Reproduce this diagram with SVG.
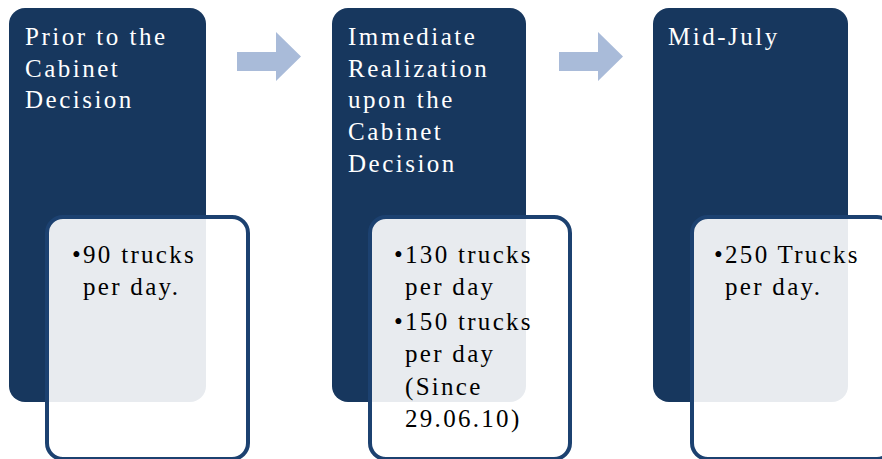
<svg xmlns="http://www.w3.org/2000/svg" width="882" height="459" viewBox="0 0 882 459">
<style>
.dark{fill:#17375e;}
.card{fill:#ffffff;fill-opacity:0.9;stroke:#1c4170;stroke-width:4;}
.arrow{fill:#a9bbd9;}
.head{font-family:"Liberation Serif",serif;font-size:25px;fill:#ffffff;letter-spacing:2.5px;}
.body{font-family:"Liberation Serif",serif;font-size:25px;fill:#000000;letter-spacing:2.3px;}
</style>
<rect width="882" height="459" fill="#ffffff"/>
<g id="connectors">
<path class="arrow" d="M237,52 H276 V32 L301,56.5 L276,81 V71 H237 Z"/>
<path class="arrow" d="M559,52 H598 V32 L623,56.5 L598,81 V71 H559 Z"/>
</g>
<g id="stage1">
<rect class="dark" x="9" y="8" width="197" height="394" rx="16"/>
<rect class="card" x="47" y="217" width="201" height="242" rx="16"/>
<text class="head"><tspan x="25" y="45">Prior to the</tspan><tspan x="25" y="77">Cabinet</tspan><tspan x="25" y="108">Decision</tspan></text>
<text class="body"><tspan x="72" y="263">•90 trucks</tspan><tspan x="83" y="295">per day.</tspan></text>
</g>
<g id="stage2">
<rect class="dark" x="332" y="8" width="194" height="394" rx="16"/>
<rect class="card" x="370" y="217" width="200" height="242" rx="16"/>
<text class="head"><tspan x="348" y="45">Immediate</tspan><tspan x="348" y="77">Realization</tspan><tspan x="348" y="108">upon the</tspan><tspan x="348" y="140">Cabinet</tspan><tspan x="348" y="172">Decision</tspan></text>
<text class="body"><tspan x="394" y="263">•130 trucks</tspan><tspan x="405" y="295">per day</tspan><tspan x="394" y="330">•150 trucks</tspan><tspan x="405" y="362">per day</tspan><tspan x="405" y="395">(Since</tspan><tspan x="405" y="427">29.06.10)</tspan></text>
</g>
<g id="stage3">
<rect class="dark" x="653" y="8" width="195" height="394" rx="16"/>
<rect class="card" x="692" y="217" width="201" height="242" rx="16"/>
<text class="head"><tspan x="668" y="45">Mid-July</tspan></text>
<text class="body"><tspan x="714" y="263">•250 Trucks</tspan><tspan x="725" y="295">per day.</tspan></text>
</g>
</svg>
